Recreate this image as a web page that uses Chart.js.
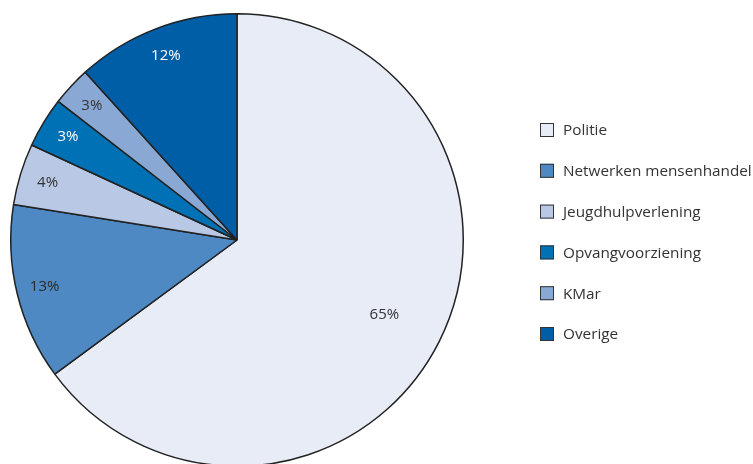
<!DOCTYPE html>
<html>
<head>
<meta charset="utf-8">
<script src="https://cdn.jsdelivr.net/npm/chart.js@4/dist/chart.umd.min.js"></script>
<style>
	html, body { margin: 0; padding: 0; background: #fff; overflow: hidden; }
	#wrap { width: 753px; height: 464px; overflow: hidden; position: relative; }
	canvas { position: absolute; left: 0; top: 0; }
</style>
</head>
<body>
<div id="wrap"><canvas id="pieChart" width="753" height="480"></canvas></div>
<script>
// Chart data
const categories = ['Politie', 'Netwerken mensenhandel', 'Jeugdhulpverlening', 'Opvangvoorziening', 'KMar', 'Overige']
// slice sizes as drawn, and the rounded figures printed on them
const shares = [64.9, 12.6, 4.4, 3.6, 2.8, 11.7]
const printedPct = [65, 13, 4, 3, 3, 12]
const sliceColors = ['#e8ecf7', '#4f89c3', '#b8c8e5', '#0071b4', '#8aa8d4', '#005ea7']
const labelColors = ['#333333', '#2b2b2b', '#333333', '#ffffff', '#333333', '#ffffff']

const FONT = '"Open Sans", "Noto Sans", sans-serif'

// Percentage labels inside slices
const sliceLabels = {
	id: 'sliceLabels',
	afterDatasetsDraw(chart) {
		const ctx = chart.ctx
		const meta = chart.getDatasetMeta(0)
		ctx.save()
		ctx.font = '15px ' + FONT
		ctx.textAlign = 'center'
		ctx.textBaseline = 'middle'
		meta.data.forEach((arc, i) => {
			const p = arc.getProps(['x', 'y', 'startAngle', 'endAngle', 'outerRadius'])
			const mid = (p.startAngle + p.endAngle) / 2
			const f = shares[i] > 50 ? 0.73 : 0.875
			const x = p.x + Math.cos(mid) * p.outerRadius * f
			const y = p.y + Math.sin(mid) * p.outerRadius * f
			ctx.fillStyle = labelColors[i]
			ctx.fillText(printedPct[i] + '%', x, y)
		})
		ctx.restore()
	},
}

// Legend drawn on the right
const sideLegend = {
	id: 'sideLegend',
	afterDraw(chart) {
		const ctx = chart.ctx
		ctx.save()
		ctx.font = '15.3px ' + FONT
		ctx.textBaseline = 'middle'
		ctx.textAlign = 'left'
		chart.data.labels.forEach((label, i) => {
			const y = 130 + i * 40.8
			ctx.fillStyle = sliceColors[i]
			ctx.fillRect(540, y - 7, 14, 14)
			ctx.strokeStyle = '#333'
			ctx.lineWidth = 1
			ctx.strokeRect(540.5, y - 6.5, 13, 13)
			ctx.fillStyle = '#333'
			ctx.fillText(label, 563, y + 1)
		})
		ctx.restore()
	},
}

new Chart(document.getElementById('pieChart').getContext('2d'), {
	type: 'pie',
	data: {
		labels: categories,
		datasets: [
			{
				data: shares,
				backgroundColor: sliceColors,
				borderColor: '#222',
				borderWidth: 1.5,
				hoverOffset: 0,
			},
		],
	},
	options: {
		responsive: false,
		animation: false,
		layout: {
			padding: { left: 10, top: 13, right: 289, bottom: 13 },
		},
		plugins: {
			legend: { display: false },
			tooltip: { enabled: false },
		},
	},
	plugins: [sliceLabels, sideLegend],
})
</script>
</body>
</html>
